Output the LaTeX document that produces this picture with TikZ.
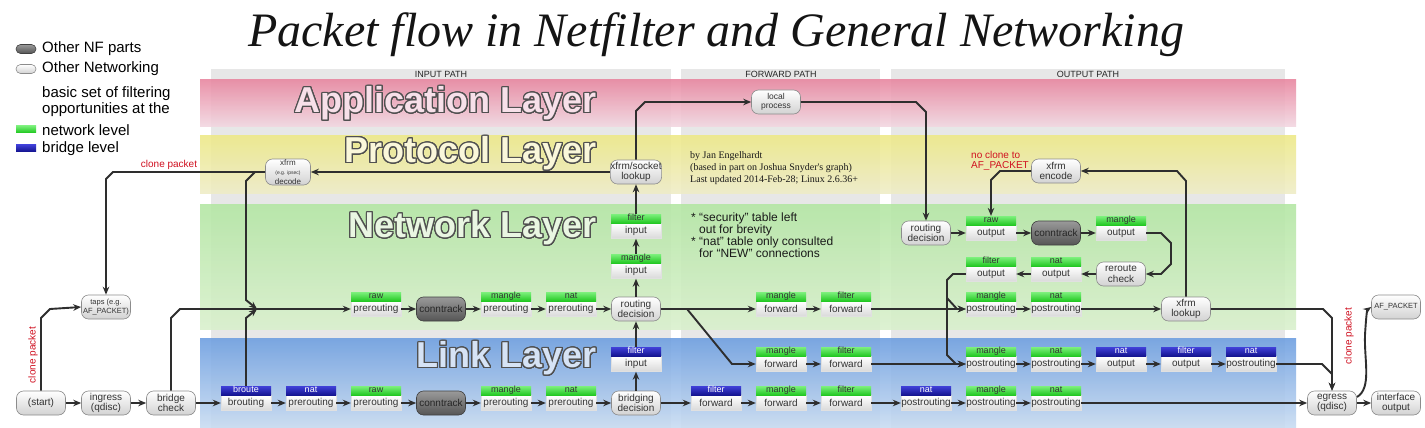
\documentclass[tikz,border=0pt]{standalone}
\usepackage{fontspec}
\setmainfont{Liberation Sans}
\newfontfamily\authfont{Liberation Serif}
\usepackage[copies]{contour}
\contourlength{1.2pt}
\contournumber{24}
\usetikzlibrary{arrows.meta,calc}

\definecolor{linec}{HTML}{2E2E2E}
\definecolor{colgray}{HTML}{E7E7E7}
\definecolor{apptop}{HTML}{E8859F}
\definecolor{appbot}{HTML}{F2D6E0}
\definecolor{prottop}{HTML}{EDE985}
\definecolor{protbot}{HTML}{EEECC6}
\definecolor{nettop}{HTML}{B2E6A2}
\definecolor{netbot}{HTML}{D9F0CC}
\definecolor{linktop}{HTML}{6B9DE0}
\definecolor{linkbot}{HTML}{C8DCF2}
\definecolor{ghtop}{HTML}{7CF07C}
\definecolor{ghbot}{HTML}{22C822}
\definecolor{bhtop}{HTML}{4040D8}
\definecolor{bhbot}{HTML}{141490}
\definecolor{bodybot}{HTML}{D9D9D9}
\definecolor{pillbot}{HTML}{D2D2D2}
\definecolor{pillborder}{HTML}{8C8C8C}
\definecolor{nftop}{HTML}{9A9A9A}
\definecolor{nfbot}{HTML}{555555}
\definecolor{nfborder}{HTML}{404040}
\definecolor{txt}{HTML}{333333}
\definecolor{outl}{HTML}{505050}
\definecolor{appfill}{HTML}{F7E0E9}
\definecolor{protfill}{HTML}{FAF7DA}
\definecolor{netfill}{HTML}{E9F6E2}
\definecolor{linkfill}{HTML}{D6E3F5}
\definecolor{redtxt}{HTML}{D01020}

\newcommand\nodefnt{\fontsize{10}{10.5}\selectfont}
\newcommand\hdrfnt{\fontsize{9}{9}\selectfont}
\newcommand\layerfnt{\fontsize{36}{36}\selectfont\bfseries}
\newcommand\tbl[5]{\node[tbody] (#1) at (#2) {#5};\node[#3,anchor=south] (#1h) at (#1.north) {#4};}

\begin{document}
\begin{tikzpicture}[x=1pt,y=-1pt,
  pill/.style={draw=pillborder, line width=0.6pt, rounded corners=7pt, top color=white, bottom color=pillbot, minimum width=49pt, minimum height=24pt, inner sep=0pt, align=center, text=txt, font=\nodefnt},
  nfpill/.style={pill, draw=nfborder, top color=nftop, bottom color=nfbot, text=black!85},
  tbody/.style={draw=black!12, line width=0.4pt, top color=white, bottom color=bodybot, minimum width=50pt, minimum height=15pt, inner sep=0pt, text=txt, font=\nodefnt},
  thdr/.style={minimum width=50pt, minimum height=9pt, inner sep=0pt, text height=6.3pt, text depth=1.7pt, font=\hdrfnt},
  gh/.style={thdr, top color=ghtop, bottom color=ghbot, text=black!80},
  bh/.style={thdr, top color=bhtop, bottom color=bhbot, text=white},
  link/.style={draw=linec, line width=1.9pt, -{Stealth[length=8pt,width=6.5pt]}},
  redlbl/.style={text=redtxt, font=\fontsize{10}{10}\selectfont, inner sep=0pt},
  pathlbl/.style={font=\fontsize{9}{9}\selectfont, text=black!85, inner sep=0pt},
  legtxt/.style={font=\fontsize{15}{16}\selectfont, anchor=west, inner sep=0pt, align=left}
]
\useasboundingbox (0,0) rectangle (1425,428);
\fill[white] (0,0) rectangle (1425,428);

% path columns
\fill[colgray] (211,69) rectangle (671,428);
\fill[colgray] (681,69) rectangle (880,428);
\fill[colgray] (891,69) rectangle (1285,428);
% layer bands
\shade[top color=apptop,bottom color=appbot,opacity=0.88] (200,80) rectangle (1296,126);
\shade[top color=prottop,bottom color=protbot,opacity=0.88] (200,135) rectangle (1296,193);
\shade[top color=nettop,bottom color=netbot,opacity=0.88] (200,204) rectangle (1296,329);
\shade[top color=linktop,bottom color=linkbot,opacity=0.88] (200,338) rectangle (1296,428);

% path labels
\node[pathlbl] (pin) at (441,74) {INPUT PATH};
\node[pathlbl] (pfw) at (781,74) {FORWARD PATH};
\node[pathlbl] (pout) at (1088,74) {OUTPUT PATH};

% layer titles
\node[anchor=east, inner sep=0pt, font=\layerfnt] (tapp) at (597,104) {\color{appfill}\contour{outl}{Application Layer}};
\node[anchor=east, inner sep=0pt, font=\layerfnt] (tprot) at (597,154) {\color{protfill}\contour{outl}{Protocol Layer}};
\node[anchor=east, inner sep=0pt, font=\layerfnt] (tnet) at (597,229) {\color{netfill}\contour{outl}{Network Layer}};
\node[anchor=east, inner sep=0pt, font=\layerfnt] (tlink) at (597,359) {\color{linkfill}\contour{outl}{Link Layer}};

% title
\node[inner sep=0pt, font=\authfont\itshape\fontsize{48}{48}\selectfont, text=black!92] (title) at (716,35) {Packet flow in Netfilter and General Networking};

% legend
\node[nfpill, minimum width=20pt, minimum height=9pt, rounded corners=4.5pt] (lg1) at (26,49) {};
\node[legtxt] (lg1t) at (42,49) {Other NF parts};
\node[pill, minimum width=20pt, minimum height=9pt, rounded corners=4.5pt] (lg2) at (26,69) {};
\node[legtxt] (lg2t) at (42,69) {Other Networking};
\node[legtxt, anchor=north west] (lg3t) at (42,86) {basic set of filtering\\opportunities at the};
\node[gh, minimum width=20pt, minimum height=7pt, text height=0pt, text depth=0pt] (lg4) at (26,129) {};
\node[legtxt] (lg4t) at (42,130) {network level};
\node[bh, minimum width=20pt, minimum height=7pt, text height=0pt, text depth=0pt] (lg5) at (26,148) {};
\node[legtxt] (lg5t) at (42,149) {bridge level};

% author and notes
\node[anchor=west, align=left, inner sep=0pt, font=\authfont\fontsize{10}{12}\selectfont, text=black!90] (auth) at (690,168) {by Jan Engelhardt\\(based in part on Joshua Snyder's graph)\\Last updated 2014-Feb-28; Linux 2.6.36+};
\node[anchor=north west, align=left, inner sep=0pt, font=\fontsize{12}{12}\selectfont, text=black!90] (notes) at (691,213) {* “security” table left\\\hspace*{8pt}out for brevity\\* “nat” table only consulted\\\hspace*{8pt}for “NEW” connections};

% ---------- bottom row (link layer) ----------
\node[pill] (start) at (41,403) {(start)};
\node[pill] (ingress) at (106,403) {ingress\\(qdisc)};
\node[pill] (bcheck) at (171,403) {bridge\\check};
\tbl{broute}{246,403}{bh}{broute}{brouting}
\tbl{lnatpre}{311,403}{bh}{nat}{prerouting}
\tbl{lrawpre}{376,403}{gh}{raw}{prerouting}
\node[nfpill] (lct) at (441,403) {conntrack};
\tbl{lmanglepre}{506,403}{gh}{mangle}{prerouting}
\tbl{lnatpre2}{571,403}{gh}{nat}{prerouting}
\node[pill] (bdec) at (636,403) {bridging\\decision};
\tbl{lfilterfwd}{716,403}{bh}{filter}{forward}
\tbl{lmanglefwd}{781,403}{gh}{mangle}{forward}
\tbl{lfilterfwd2}{846,403}{gh}{filter}{forward}
\tbl{lnatpost}{926,403}{bh}{nat}{postrouting}
\tbl{lmanglepost}{991,403}{gh}{mangle}{postrouting}
\tbl{lnatpost2}{1056,403}{gh}{nat}{postrouting}
\node[pill] (egress) at (1332,403) {egress\\(qdisc)};
\node[pill] (ifout) at (1396,403) {interface\\output};
\node[pill, font=\fontsize{7.5}{8}\selectfont] (afp) at (1396,307) {AF\_PACKET};

% ---------- link layer second row ----------
\tbl{lfilterin}{636,364}{bh}{filter}{input}
\tbl{ltwomanglefwd}{781,364}{gh}{mangle}{forward}
\tbl{ltwofilterfwd}{846,364}{gh}{filter}{forward}
\tbl{ltwomanglepost}{991,364}{gh}{mangle}{postrouting}
\tbl{ltwonatpost}{1056,364}{gh}{nat}{postrouting}
\tbl{ltwonatout}{1121,364}{bh}{nat}{output}
\tbl{ltwofilterout}{1186,364}{bh}{filter}{output}
\tbl{ltwonatpost2}{1251,364}{bh}{nat}{postrouting}

% ---------- network layer ----------
\node[pill, font=\fontsize{7.5}{8.5}\selectfont] (taps) at (106,307) {taps (e.g.\\AF\_PACKET)};
\tbl{nrawpre}{376,309}{gh}{raw}{prerouting}
\node[nfpill] (nct) at (441,309) {conntrack};
\tbl{nmanglepre}{506,309}{gh}{mangle}{prerouting}
\tbl{nnatpre}{571,309}{gh}{nat}{prerouting}
\node[pill] (rdec) at (636,309) {routing\\decision};
\tbl{nmanglefwd}{781,309}{gh}{mangle}{forward}
\tbl{nfilterfwd}{846,309}{gh}{filter}{forward}
\tbl{nmanglepost}{991,309}{gh}{mangle}{postrouting}
\tbl{nnatpost}{1056,309}{gh}{nat}{postrouting}
\node[pill] (xlookup) at (1186,309) {xfrm\\lookup};

\tbl{nmanglein}{636,271}{gh}{mangle}{input}
\tbl{nfilterin}{636,231}{gh}{filter}{input}

\node[pill] (ordec) at (926,233) {routing\\decision};
\tbl{rawout}{991,233}{gh}{raw}{output}
\node[nfpill] (octt) at (1056,233) {conntrack};
\tbl{mangleout}{1121,233}{gh}{mangle}{output}
\node[pill] (reroute) at (1121,274) {reroute\\check};
\tbl{natout}{1056,274}{gh}{nat}{output}
\tbl{filterout}{991,274}{gh}{filter}{output}

% ---------- protocol / application ----------
\node[pill, minimum width=45pt, minimum height=26pt] (decode) at (288,172) {{\fontsize{8}{8}\selectfont xfrm}\\[-1pt]{\fontsize{5}{5}\selectfont (e.g. ipsec)}\\[-1pt]{\fontsize{8}{8}\selectfont decode}};
\node[pill] (sockl) at (636,172) {xfrm/socket\\lookup};
\node[pill] (encode) at (1056,171) {xfrm\\encode};
\node[pill, font=\fontsize{8.5}{9.5}\selectfont] (lproc) at (776,102) {local\\process};

% red labels
\node[redlbl] (cl1) at (169,165) {clone packet};
\node[redlbl, rotate=90] (cl2) at (33,355) {clone packet};
\node[redlbl, rotate=90] (cl3) at (1349,336) {clone packet};
\node[redlbl, anchor=west, align=left] (noclone) at (971,161) {no clone to\\AF\_PACKET};

% junction coordinates
\coordinate (m1) at (257,309);
\coordinate (j1) at (255,172);
\coordinate (j2) at (947,298);
\coordinate (j3) at (687,309);

% ---------- connectors ----------
\foreach \a/\b in {start/ingress, ingress/bcheck, bcheck/broute, broute/lnatpre, lnatpre/lrawpre, lrawpre/lct, lct/lmanglepre, lmanglepre/lnatpre2, lnatpre2/bdec, bdec/lfilterfwd, lfilterfwd/lmanglefwd, lmanglefwd/lfilterfwd2, lfilterfwd2/lnatpost, lnatpost/lmanglepost, lmanglepost/lnatpost2, lnatpost2/egress, egress/ifout,
  ltwomanglefwd/ltwofilterfwd, ltwofilterfwd/ltwomanglepost, ltwomanglepost/ltwonatpost, ltwonatpost/ltwonatout, ltwonatout/ltwofilterout, ltwofilterout/ltwonatpost2,
  nrawpre/nct, nct/nmanglepre, nmanglepre/nnatpre, nnatpre/rdec, rdec/nmanglefwd, nmanglefwd/nfilterfwd, nfilterfwd/nmanglepost, nmanglepost/nnatpost, nnatpost/xlookup,
  ordec/rawout, rawout/octt, octt/mangleout, reroute/natout, natout/filterout, sockl/decode}
  \draw[link] (\a) -- (\b);

\draw[link] (start.north) -- (41,318) -- (50,309) -- (taps.west);
\draw[link] (bcheck.north) -- (171,318) -- (180,309) -- (nrawpre.west);
\draw[link] (brouteh.north) -- (246,318) -- (m1);
\draw[link] (decode.west) -- (113,172) -- (106,179) -- (taps.north);
\draw[link] (j1) -- (246,181) -- (246,300) -- (m1);

\draw[link] (rdec) -- (nmanglein);
\draw[link] (nmangleinh.north) -- (nfilterin.south);
\draw[link] (nfilterinh.north) -- (sockl.south);
\draw[link] (bdec) -- (lfilterin);
\draw[link] (lfilterinh.north) -- (rdec.south);

\draw[link] (sockl.north) -- (636,111) -- (645,102) -- (lproc.west);
\draw[link] (lproc.east) -- (916,102) -- (926,112) -- (ordec.north);

\draw[link] (mangleout.east) -- (1161,233) -- (1171,243) -- (1171,264) -- (1161,274) -- (reroute.east);
\draw[link] (filterout.west) -- (953,274) -- (947,280) -- (947,355) -- (956,364) -- (ltwomanglepost.west);
\draw[link] (j2) -- (957,309) -- (nmanglepost.west);
\draw[link] (j3) -- (732,364) -- (ltwomanglefwd.west);

\draw[link] (xlookup.north) -- (1186,181) -- (1177,171) -- (encode.east);
\draw[link] (encode.west) -- (1000,171) -- (991,180) -- (rawouth.north);

\draw[link] (xlookup.east) -- (1323,309) -- (1332,318) -- (egress.north);
\draw[link] (ltwonatpost2.east) -- (1322,364) -- (1332,374) -- (egress.north);

\draw[link] (1357,397) .. controls (1372,388) and (1364,360) .. (1365,335) .. controls (1366,318) and (1367,310) .. (afp.west);
\end{tikzpicture}
\end{document}
